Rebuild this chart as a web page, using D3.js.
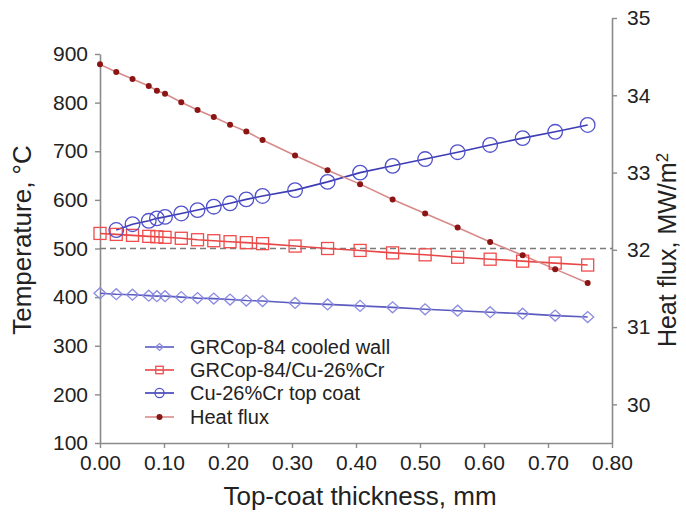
<!DOCTYPE html>
<html><head><meta charset="utf-8">
<script src="https://cdn.jsdelivr.net/npm/d3@7"></script>
<style>body{margin:0;background:#fff}svg{display:block}text{font-family:"Liberation Sans",Arial,sans-serif;fill:#222}</style>
</head><body><svg id="c" width="686" height="517"></svg>
<script>
// Top-coat thickness (mm)
const thickness = [0, 0.0254, 0.0508, 0.0762, 0.0889, 0.1016, 0.127, 0.1524, 0.1778, 0.2032, 0.2286, 0.254, 0.3048, 0.3556, 0.4064, 0.4572, 0.508, 0.5588, 0.6096, 0.6604, 0.7112, 0.762];
// Temperatures (°C)
const cooledWall = [408, 406, 405, 403, 402, 402, 400, 398, 397, 395, 393, 392, 388, 385, 382, 379, 375, 372, 369, 366, 362, 359];
const interfaceT = [531, 529, 527, 525, 524, 523, 521, 518, 516, 514, 512, 510, 505, 500, 496, 491, 487, 482, 478, 474, 470, 466];
const topCoat = [null, 538, 550, 557, 562, 565, 572, 579, 586, 593, 601, 608, 620, 637, 656, 670, 684, 698, 713, 727, 740, 754];
// Heat flux (MW/m2)
const heatFlux = [34.40, 34.30, 34.21, 34.12, 34.06, 34.02, 33.91, 33.81, 33.72, 33.62, 33.53, 33.42, 33.22, 33.03, 32.85, 32.65, 32.47, 32.29, 32.10, 31.93, 31.75, 31.57];
const xTicks = [0, 0.1, 0.2, 0.3, 0.4, 0.5, 0.6, 0.7, 0.8];
const yTicks = [100, 200, 300, 400, 500, 600, 700, 800, 900];
const y2Ticks = [30, 31, 32, 33, 34, 35];
const limitTemp = 500;
const seriesNames = ["GRCop-84 cooled wall", "GRCop-84/Cu-26%Cr", "Cu-26%Cr top coat", "Heat flux"];

const svg = d3.select("#c");
const x = d3.scaleLinear().domain([0, 0.8]).range([100, 612]);
const y = d3.scaleLinear().domain([100, 900]).range([443, 54]);
const y2 = d3.scaleLinear().domain([29.5, 35]).range([443, 18]);

const axisColor = "#8a8a8a";
function styleAxis(g, fs) {
  g.selectAll(".domain").attr("stroke", axisColor).attr("stroke-width", 1.6);
  g.selectAll(".tick line").attr("stroke", axisColor).attr("stroke-width", 1.4);
  g.selectAll("text").attr("font-size", fs).attr("fill", "#222")
    .style("font-family", '"Liberation Sans",Arial,sans-serif');
}
const gx = svg.append("g").attr("transform", "translate(0,443)")
  .call(d3.axisBottom(x).tickValues(xTicks).tickFormat(d3.format(".2f")).tickSize(5).tickSizeOuter(0).tickPadding(7));
styleAxis(gx, 21);
const gy = svg.append("g").attr("transform", "translate(100,0)")
  .call(d3.axisLeft(y).tickValues(yTicks).tickSize(5).tickSizeOuter(0).tickPadding(7));
styleAxis(gy, 21);
const gy2 = svg.append("g").attr("transform", "translate(612,0)")
  .call(d3.axisRight(y2).tickValues(y2Ticks).tickFormat(d3.format("d")).tickSize(5).tickSizeOuter(0).tickPadding(10));
styleAxis(gy2, 21);

// dashed 500 °C line
svg.append("line").attr("x1", x(0)).attr("x2", x(0.8)).attr("y1", y(limitTemp)).attr("y2", y(limitTemp))
  .attr("stroke", "#7a7a7a").attr("stroke-width", 1.6).attr("stroke-dasharray", "6,4");

const pts = (vals, sc) => thickness.map((t, i) => [t, vals[i]]).filter(d => d[1] != null).map(d => [x(d[0]), sc(d[1])]);
const line = d3.line();

const series = [
  {vals: cooledWall, sc: y, line: "#5a5ac0", stroke: "#8c8ce0", marker: "diamond"},
  {vals: interfaceT, sc: y, line: "#e84545", stroke: "#f04c4c", marker: "square"},
  {vals: topCoat, sc: y, line: "#3c3cb4", stroke: "#5050cc", marker: "circle"},
  {vals: heatFlux, sc: y2, line: "#d88a8a", stroke: "#8b1414", marker: "dot"}
];

function drawMarker(g, type, cx, cy, s, stroke) {
  if (type === "diamond") {
    const w = 6 * s, h = 5.5 * s;
    g.append("path").attr("d", `M${cx - w},${cy}L${cx},${cy - h}L${cx + w},${cy}L${cx},${cy + h}Z`)
      .attr("fill", "none").attr("stroke", stroke).attr("stroke-width", 1.3);
  } else if (type === "square") {
    const a = 6 * s;
    g.append("rect").attr("x", cx - a).attr("y", cy - a).attr("width", 2 * a).attr("height", 2 * a)
      .attr("fill", "none").attr("stroke", stroke).attr("stroke-width", 1.3);
  } else if (type === "circle") {
    g.append("circle").attr("cx", cx).attr("cy", cy).attr("r", 7.3 * s)
      .attr("fill", "none").attr("stroke", stroke).attr("stroke-width", 1.3);
  } else {
    g.append("circle").attr("cx", cx).attr("cy", cy).attr("r", 3)
      .attr("fill", stroke);
  }
}

series.forEach(s => {
  const p = pts(s.vals, s.sc);
  svg.append("path").attr("d", line(p)).attr("fill", "none").attr("stroke", s.line).attr("stroke-width", 1.6);
});
series.forEach(s => {
  const g = svg.append("g");
  pts(s.vals, s.sc).forEach(([cx, cy]) => drawMarker(g, s.marker, cx, cy, 1, s.stroke));
});

// legend
const legY = [347, 370, 393, 417];
series.forEach((s, i) => {
  const g = svg.append("g");
  g.append("line").attr("x1", 145).attr("x2", 174).attr("y1", legY[i]).attr("y2", legY[i])
    .attr("stroke", s.line).attr("stroke-width", 1.6);
  drawMarker(g, s.marker, 159.5, legY[i], 0.62, s.stroke);
  g.append("text").attr("x", 190).attr("y", legY[i]).attr("dy", "0.36em").attr("font-size", 20).text(seriesNames[i]);
});

// axis titles
svg.append("text").attr("x", 360).attr("y", 505).attr("text-anchor", "middle").attr("font-size", 26)
  .text("Top-coat thickness, mm");
svg.append("text").attr("transform", "translate(31,240) rotate(-90)").attr("text-anchor", "middle").attr("font-size", 26)
  .text("Temperature, °C");
const t2 = svg.append("text").attr("transform", "translate(676,250) rotate(-90)").attr("text-anchor", "middle").attr("font-size", 25);
t2.append("tspan").text("Heat flux, MW/m");
t2.append("tspan").attr("dy", "-0.45em").attr("font-size", 17).text("2");
</script></body></html>
